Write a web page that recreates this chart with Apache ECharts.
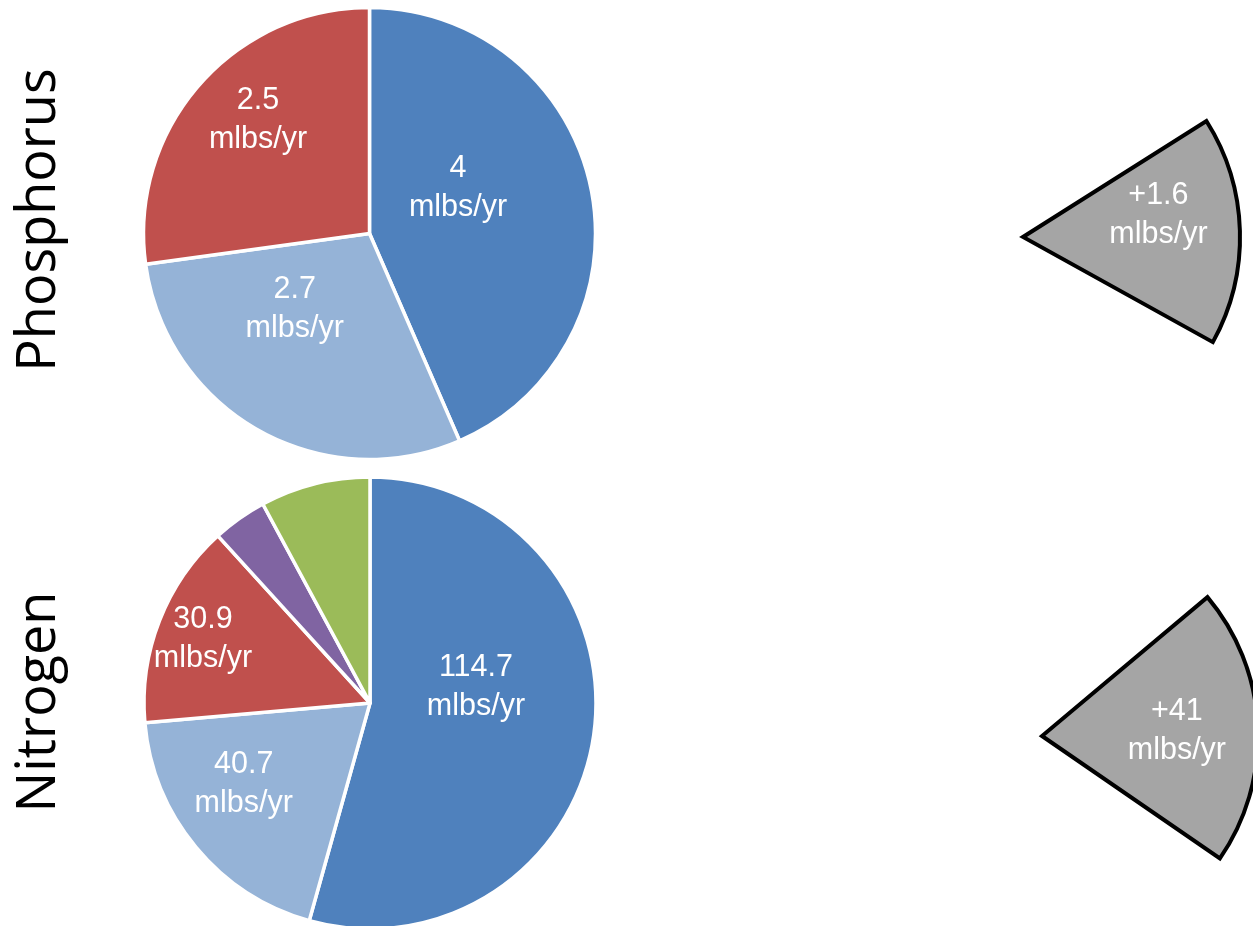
<!DOCTYPE html>
<html><head><meta charset="utf-8">
<script src="https://cdn.jsdelivr.net/npm/echarts@6/dist/echarts.min.js"></script>
<style>html,body{margin:0;padding:0;background:#fff}#c{width:1253px;height:926px}</style>
</head><body><div id="c"></div>
<script>
// ---- data ----
const rowLabels = ['Phosphorus', 'Nitrogen'];
const unitLabel = 'mlbs/yr';
const phosphorusCategories = ['Category 1', 'Category 2', 'Category 3'];
const phosphorusValues = [4, 2.7, 2.5];
const nitrogenCategories = ['Category 1', 'Category 2', 'Category 3', 'Category 4', 'Category 5'];
const nitrogenValues = [114.7, 40.7, 30.9, 8.2, 16.6];
const nitrogenLabelShown = [true, true, true, false, false];
const gainValues = [1.6, 41];          // +P, +N
const gainRestValues = [7.8, 157];     // invisible remainder of the wedge pies

// ---- styles ----
const sliceColors = ['#4F81BD', '#95B3D7', '#C0504D', '#8064A2', '#9BBB59'];
const gainColor = '#A5A5A5';
const labelFont = { fontFamily: 'Liberation Sans, Arial, sans-serif', fontSize: 30.5, lineHeight: 39, color: '#fff' };
// label shifts from ECharts' default inside position (Excel-like placement)
const pShift = [[-25, -22], [-18, -26], [-24, -37]];
const nShift = [[-9, -32], [-37, 7], [-59, -22], [0, 0], [0, 0]];
const gShift = [[24, -19], [24, 0]];

function mainPie(center, names, values, shows, shifts) {
  return {
    type: 'pie', center: center, radius: 226, startAngle: 90, clockwise: true,
    avoidLabelOverlap: false, silent: true, animation: false,
    emphasis: { disabled: true },
    itemStyle: { borderColor: '#fff', borderWidth: 3.5 },
    label: Object.assign({ show: true, position: 'inside', formatter: '{c}\n' + unitLabel, align: 'center' }, labelFont),
    labelLine: { show: false },
    labelLayout: function (p) { const s = shifts[p.dataIndex]; return { dx: s[0], dy: s[1] }; },
    data: values.map((v, i) => ({
      name: names[i], value: v,
      itemStyle: { color: sliceColors[i] },
      label: { show: shows ? shows[i] : true }
    }))
  };
}

function gainPie(center, radius, startAngle, idx) {
  return {
    type: 'pie', center: center, radius: radius, startAngle: startAngle, clockwise: true,
    avoidLabelOverlap: false, silent: true, animation: false,
    emphasis: { disabled: true },
    label: Object.assign({ show: true, position: 'inside', formatter: '+{c}\n' + unitLabel, align: 'center' }, labelFont),
    labelLine: { show: false },
    labelLayout: function (p) { return { dx: gShift[idx][0], dy: gShift[idx][1] }; },
    data: [
      { name: 'Gain', value: gainValues[idx], itemStyle: { color: gainColor, borderColor: '#000', borderWidth: 4, borderJoin: 'miter' } },
      { name: 'Rest', value: gainRestValues[idx], itemStyle: { color: 'rgba(0,0,0,0)', borderWidth: 0 }, label: { show: false } }
    ]
  };
}

const chart = echarts.init(document.getElementById('c'), null, { renderer: 'canvas' });
chart.setOption({
  backgroundColor: '#fff',
  animation: false,
  graphic: [
    { type: 'text', x: 40, y: 220, rotation: Math.PI / 2,
      style: { text: rowLabels[0], font: '54px "Open Sans", sans-serif', fill: '#000', align: 'center', verticalAlign: 'middle' } },
    { type: 'text', x: 40, y: 702, rotation: Math.PI / 2,
      style: { text: rowLabels[1], font: '54px "Open Sans", sans-serif', fill: '#000', align: 'center', verticalAlign: 'middle' } }
  ],
  series: [
    mainPie([369.5, 233.5], phosphorusCategories, phosphorusValues, null, pShift),
    mainPie([370, 703], nitrogenCategories, nitrogenValues, nitrogenLabelShown, nShift),
    gainPie([1023, 237], 217, 32.3, 0),
    gainPie([1042, 736], 216, 40, 1)
  ]
});
</script>
</body></html>
